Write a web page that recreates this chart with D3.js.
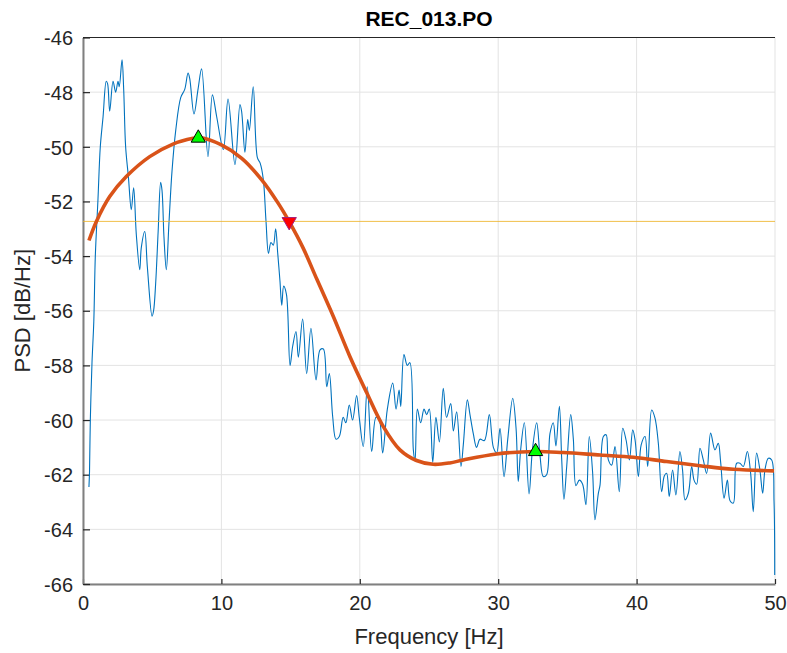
<!DOCTYPE html>
<html>
<head>
<meta charset="utf-8">
<script src="https://cdn.jsdelivr.net/npm/d3@7"></script>
<style>
    body { margin: 0; background: #fff; }
    svg { display: block; font-family: "Liberation Sans", Arial, sans-serif; }
</style>
</head>
<body>
<svg id="chart" width="787" height="653"></svg>
<script>
// measured PSD (blue)
const psdFreq = [0.43, 0.47, 0.53, 0.65, 0.78, 0.89, 1.08, 1.25, 1.45, 1.68, 1.78, 1.93, 2.17, 2.36, 2.53, 2.62, 2.82, 2.94,
    3.08, 3.28, 3.49, 3.66, 3.85, 4.10, 4.21, 4.46, 4.65, 4.99, 5.1, 5.25, 5.43, 5.61, 5.71, 5.85, 6.02, 6.21, 6.43, 6.70,
    7.06, 7.35, 7.59, 7.71, 8.02, 8.31, 8.57, 9.03, 9.35, 9.66, 10.14, 10.48, 10.98, 11.34, 11.46, 11.7, 11.9, 12.02, 12.3,
    12.6, 12.8, 13.03, 13.22, 13.4, 13.58, 13.75, 13.92, 14.07, 14.23, 14.36, 14.5, 14.7, 14.96, 15.15, 15.39, 15.56, 15.87,
    16.16, 16.47, 16.84, 17.13, 17.37, 17.61, 17.8, 18.04, 18.28, 18.52, 18.8, 18.99, 19.24, 19.48, 19.77, 19.96, 20.25,
    20.54, 20.86, 21.17, 21.41, 21.65, 21.99, 22.38, 22.62, 22.84, 22.96, 23.19, 23.43, 23.62, 23.87, 23.99, 24.16, 24.4,
    24.64, 24.83, 25.02, 25.27, 25.5, 25.75, 26.03, 26.27, 26.57, 26.76, 27.0, 27.31, 27.48, 27.77, 27.96, 28.2, 28.44,
    28.68, 29.0, 29.36, 29.65, 29.89, 30.13, 30.42, 30.69, 31.05, 31.29, 31.45, 31.62, 31.89, 32.23, 32.47, 32.78, 33.02,
    33.26, 33.5, 33.74, 33.98, 34.17, 34.42, 34.59, 34.75, 34.95, 35.24, 35.43, 35.62, 35.86, 36.1, 36.34, 36.58, 36.82,
    36.99, 37.23, 37.36, 37.6, 37.8, 37.96, 38.2, 38.44, 38.75, 39.0, 39.24, 39.48, 39.72, 39.89, 40.13, 40.33, 40.61,
    40.8, 41.09, 41.33, 41.57, 41.81, 42.0, 42.17, 42.36, 42.6, 42.84, 43.13, 43.32, 43.5, 43.74, 43.98, 44.15, 44.34,
    44.58, 44.82, 45.06, 45.35, 45.66, 45.9, 46.07, 46.32, 46.56, 46.75, 46.99, 47.23, 47.47, 47.71, 48.0, 48.24, 48.43,
    48.67, 48.91, 49.11, 49.28, 49.52, 49.76, 49.93, 49.98];
const psdValue = [-62.45, -61.9, -60.0, -57.9, -56.4, -54.0, -51.95, -50.0, -48.9, -47.6, -47.7, -48.7, -47.6, -48.0, -47.6, -47.8, -46.82, -47.9,
    -50.0, -51.1, -52.3, -51.5, -53.2, -54.5, -53.7, -53.1, -54.4, -56.2, -56.0, -55.0, -53.1, -51.3, -51.6, -53.3, -54.5, -52.8, -50.9, -49.4,
    -48.2, -47.9, -47.3, -47.5, -48.8, -47.9, -47.15, -50.36, -48.1, -48.9, -50.1, -48.25, -50.65, -48.45, -48.7, -50.2, -49.0, -49.4, -47.8,
    -50.4, -50.6, -51.2, -52.7, -53.9, -53.5, -53.6, -53.0, -53.9, -54.9, -55.8, -55.1, -55.4, -58.0, -57.3, -56.76, -57.7, -56.3,
    -58.3, -56.64, -58.53, -57.43, -57.4, -58.78, -58.3, -59.87, -60.7, -60.6, -59.9, -60.1, -59.45, -60.0, -59.1, -59.9, -60.97,
    -58.78, -61.15, -59.9, -60.0, -61.2, -59.6, -58.65, -59.6, -58.9, -59.5, -57.6, -58.0, -57.9, -61.1, -61.5, -59.6, -60.1,
    -59.6, -59.8, -59.6, -61.55, -59.9, -60.8, -58.84, -59.9, -59.4, -60.4, -59.7, -61.7, -60.9, -59.26, -59.8, -60.5, -61.0,
    -60.7, -60.75, -59.8, -61.0, -61.2, -60.3, -62.07, -60.7, -59.2, -60.3, -62.25, -61.1, -60.1, -62.7, -61.1, -60.1, -61.3,
    -62.07, -62.0, -60.5, -60.1, -60.95, -59.5, -61.45, -62.9, -61.7, -59.8, -60.7, -62.4, -62.2, -62.35, -63.1, -60.6, -61.9,
    -63.65, -62.7, -62.37, -60.6, -60.54, -61.46, -61.65, -60.97, -62.62, -60.3, -60.73, -61.46, -60.36, -60.73, -62.07, -60.91, -60.6,
    -61.7, -59.63, -59.93, -60.85, -62.62, -62.05, -61.95, -62.8, -61.83, -62.74, -61.15, -61.83, -62.92, -62.68, -61.7, -62.2, -62.35,
    -61.03, -61.46, -61.95, -60.48, -61.09, -60.85, -61.52, -62.86, -62.2, -62.95, -63.04, -61.58, -61.58, -61.7, -61.15, -61.95, -63.35,
    -61.21, -61.83, -62.68, -61.8, -61.4, -61.46, -62.98, -65.67];

// fitted model (orange)
const fitFreq = [0.43, 0.96, 1.93, 3.13, 4.82, 6.5, 7.95, 8.4, 10.0, 11.47, 12.9, 14.11, 14.9, 15.9, 16.9, 18.08, 19.29,
    20.5, 21.7, 22.9, 24.1, 25.3, 26.5, 27.48, 29.89, 32.68, 34.7, 37.36, 39.77, 42.17, 44.58, 46.99, 49.93];
const fitValue = [-53.43, -52.74, -51.82, -51.09, -50.36, -49.9, -49.69, -49.66, -49.93, -50.42, -51.2, -52.07, -52.74, -53.7, -54.85, -56.2, -57.68,
    -59.0, -60.24, -61.09, -61.48, -61.62, -61.57, -61.46, -61.24, -61.15, -61.19, -61.28, -61.36, -61.52, -61.67, -61.8, -61.86];

// markers
const peakFreq = [8.33, 32.7];
const peakValue = [-49.68, -61.15];
const crossFreq = [14.9];
const crossValue = [-52.74];
const thresholdValue = -52.73;

const xTicks = [0, 10, 20, 30, 40, 50];
const yTicks = [-66, -64, -62, -60, -58, -56, -54, -52, -50, -48, -46];

const width = 787, height = 653;
const margin = { top: 37.5, right: 12, bottom: 69, left: 83 };
const innerW = width - margin.left - margin.right;
const innerH = height - margin.top - margin.bottom;

const svg = d3.select('#chart');
const g = svg.append('g').attr('transform', 'translate(' + margin.left + ',' + margin.top + ')');

const x = d3.scaleLinear().domain([0, 50]).range([0, innerW]);
const y = d3.scaleLinear().domain([-66, -46]).range([innerH, 0]);

// grid
g.append('g').selectAll('line').data(xTicks).enter().append('line')
    .attr('x1', d => x(d)).attr('x2', d => x(d))
    .attr('y1', 0).attr('y2', innerH)
    .attr('stroke', '#e3e3e3').attr('stroke-width', 1);
g.append('g').selectAll('line').data(yTicks).enter().append('line')
    .attr('x1', 0).attr('x2', innerW)
    .attr('y1', d => y(d)).attr('y2', d => y(d))
    .attr('stroke', '#e3e3e3').attr('stroke-width', 1);

// axes (plain hyphen minus like the original)
const fmt = d => String(d);
const xAxis = d3.axisBottom(x).tickValues(xTicks).tickFormat(fmt).tickSizeInner(-5).tickSizeOuter(0).tickPadding(12);
const yAxis = d3.axisLeft(y).tickValues(yTicks).tickFormat(fmt).tickSizeInner(-7).tickSizeOuter(0).tickPadding(10);

const gx = g.append('g').attr('transform', 'translate(0,' + innerH + ')').call(xAxis);
const gy = g.append('g').call(yAxis);
[gx, gy].forEach(function (ax) {
    ax.select('.domain').attr('stroke', '#808080').attr('stroke-width', 2);
    ax.selectAll('.tick line').attr('stroke', '#262626').attr('stroke-width', 1.2);
    ax.selectAll('.tick text').attr('fill', '#262626').style('font-size', '20px');
});
gy.selectAll('.tick text').attr('dy', '0.36em');

// box top
g.append('line').attr('x1', 0).attr('x2', innerW).attr('y1', 0).attr('y2', 0)
    .attr('stroke', '#262626').attr('stroke-width', 1);

// series
const psdData = psdFreq.map((f, i) => ({ f: f, v: psdValue[i] }));
const fitData = fitFreq.map((f, i) => ({ f: f, v: fitValue[i] }));

g.append('path').datum(psdData)
    .attr('fill', 'none').attr('stroke', '#0072BD').attr('stroke-width', 1.1)
    .attr('stroke-linejoin', 'round')
    .attr('d', d3.line().x(d => x(d.f)).y(d => y(d.v)).curve(d3.curveCatmullRom.alpha(0.5)));

g.append('line')
    .attr('x1', x(0)).attr('x2', x(50))
    .attr('y1', y(thresholdValue)).attr('y2', y(thresholdValue))
    .attr('stroke', '#EDB120').attr('stroke-width', 1).attr('opacity', 0.8);

g.append('path').datum(fitData)
    .attr('fill', 'none').attr('stroke', '#D95319').attr('stroke-width', 3.6)
    .attr('d', d3.line().x(d => x(d.f)).y(d => y(d.v)).curve(d3.curveCatmullRom.alpha(0.5)));

// markers
const tri = d3.symbol().type(d3.symbolTriangle).size(88);
g.append('g').selectAll('path').data(peakFreq).enter().append('path')
    .attr('d', tri)
    .attr('transform', (d, i) => 'translate(' + x(d) + ',' + y(peakValue[i]) + ')')
    .attr('fill', '#00FF00').attr('stroke', '#000').attr('stroke-width', 1);
g.append('g').selectAll('path').data(crossFreq).enter().append('path')
    .attr('d', tri)
    .attr('transform', (d, i) => 'translate(' + x(d) + ',' + y(crossValue[i]) + ') rotate(180)')
    .attr('fill', '#FF0000').attr('stroke', '#A0207F').attr('stroke-width', 1);

// labels
svg.append('text')
    .attr('x', margin.left + innerW / 2).attr('y', 26)
    .attr('text-anchor', 'middle').attr('font-weight', 'bold')
    .style('font-size', '21px').attr('fill', '#000')
    .text('REC_013.PO');
svg.append('text')
    .attr('x', margin.left + innerW / 2).attr('y', 644)
    .attr('text-anchor', 'middle')
    .style('font-size', '22px').attr('fill', '#262626')
    .text('Frequency [Hz]');
svg.append('text')
    .attr('transform', 'translate(30,' + (margin.top + innerH / 2) + ') rotate(-90)')
    .attr('text-anchor', 'middle')
    .style('font-size', '22px').attr('fill', '#262626')
    .text('PSD [dB/Hz]');
</script>
</body>
</html>
